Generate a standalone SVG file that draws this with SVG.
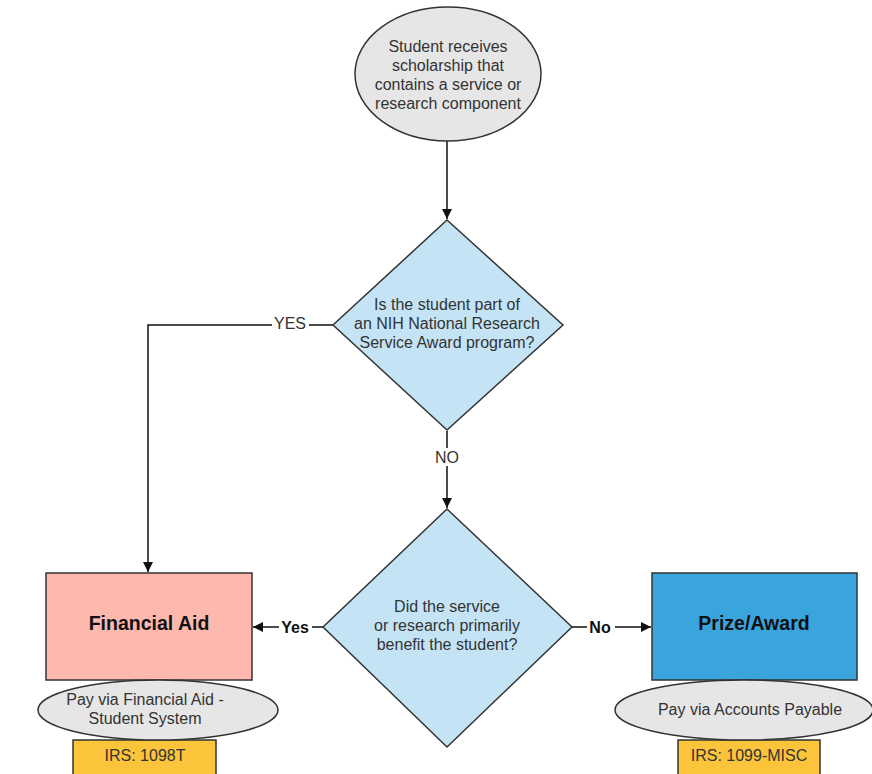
<svg xmlns="http://www.w3.org/2000/svg" width="872" height="774" viewBox="0 0 872 774">
<defs>
<marker id="ah" viewBox="0 0 10 10" refX="10" refY="5" markerWidth="10" markerHeight="10" markerUnits="userSpaceOnUse" orient="auto">
<path d="M0,0 L10,5 L0,10 z" fill="#111"/>
</marker>
<style>
.shape{stroke:#333;stroke-width:1.5}
.t{font-family:"Liberation Sans",Arial,sans-serif;font-size:16px;fill:#333;text-anchor:middle}
.b{font-family:"Liberation Sans",Arial,sans-serif;font-size:19.5px;font-weight:bold;fill:#111;text-anchor:middle}
.lbl{font-family:"Liberation Sans",Arial,sans-serif;font-size:16px;text-anchor:middle}
.c{fill:none;stroke:#111;stroke-width:1.5}
</style>
</defs>
<rect width="872" height="774" fill="#fff"/>
<g id="connectors">
<line class="c" x1="447" y1="141" x2="447" y2="219" marker-end="url(#ah)"/>
<polyline class="c" points="333,325 148,325 148,572" marker-end="url(#ah)"/>
<line class="c" x1="447" y1="431" x2="447" y2="508" marker-end="url(#ah)"/>
<line class="c" x1="323" y1="627" x2="253" y2="627" marker-end="url(#ah)"/>
<line class="c" x1="572" y1="627" x2="651" y2="627" marker-end="url(#ah)"/>
<rect x="272" y="315" width="37" height="18" fill="#fff"/>
<text class="lbl" x="290" y="329" fill="#333">YES</text>
<rect x="432" y="448" width="30" height="18" fill="#fff"/>
<text class="lbl" x="447" y="463" fill="#333">NO</text>
<rect x="279" y="618" width="33" height="18" fill="#fff"/>
<text class="lbl" x="295" y="633" font-weight="bold" fill="#111">Yes</text>
<rect x="587" y="618" width="28" height="18" fill="#fff"/>
<text class="lbl" x="600" y="633" font-weight="bold" fill="#111">No</text>
</g>
<g id="start">
<ellipse class="shape" cx="448" cy="74" rx="93" ry="67" fill="#e6e6e6"/>
<text class="t" x="448" y="52">Student receives</text>
<text class="t" x="448" y="71">scholarship that</text>
<text class="t" x="448" y="90">contains a service or</text>
<text class="t" x="448" y="109">research component</text>
</g>
<g id="decision1">
<polygon class="shape" points="447,220 563,325 447,430 333,325" fill="#c4e4f6"/>
<text class="t" x="447" y="310">Is the student part of</text>
<text class="t" x="447" y="329">an NIH National Research</text>
<text class="t" x="447" y="348">Service Award program?</text>
</g>
<g id="decision2">
<polygon class="shape" points="447,509 572,627 447,747 323,627" fill="#c4e4f6"/>
<text class="t" x="447" y="612">Did the service</text>
<text class="t" x="447" y="631">or research primarily</text>
<text class="t" x="447" y="650">benefit the student?</text>
</g>
<g id="financial-aid">
<rect class="shape" x="46" y="573" width="206" height="107" fill="#ffb8ae"/>
<text class="b" x="149" y="630">Financial Aid</text>
</g>
<g id="irs-1098t">
<rect class="shape" x="73" y="740" width="143" height="40" fill="#fbc43a"/>
<text class="t" x="145" y="761">IRS: 1098T</text>
</g>
<g id="pay-fa">
<ellipse class="shape" cx="158" cy="710" rx="120" ry="30" fill="#e6e6e6"/>
<text class="t" x="145" y="705">Pay via Financial Aid -</text>
<text class="t" x="145" y="724">Student System</text>
</g>
<g id="prize-award">
<rect class="shape" x="652" y="573" width="205" height="107" fill="#3aa4dd"/>
<text class="b" x="754" y="630">Prize/Award</text>
</g>
<g id="irs-1099">
<rect class="shape" x="678" y="740" width="142" height="40" fill="#fbc43a"/>
<text class="t" x="749" y="761">IRS: 1099-MISC</text>
</g>
<g id="pay-ap">
<ellipse class="shape" cx="744" cy="710" rx="129" ry="30" fill="#e6e6e6"/>
<text class="t" x="750" y="715">Pay via Accounts Payable</text>
</g>
</svg>
